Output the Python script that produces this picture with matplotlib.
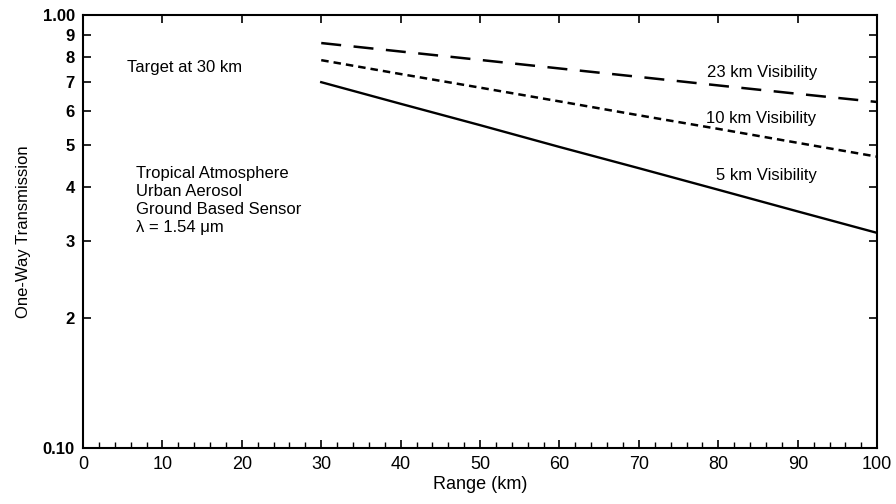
import matplotlib.pyplot as plt
from matplotlib.ticker import FixedLocator, NullLocator, MultipleLocator

plt.rcParams['font.family'] = ['Liberation Sans', 'DejaVu Sans']

range_km = [30, 40, 50, 60, 70, 80, 90, 100]
vis_23km = [0.862, 0.824, 0.788, 0.753, 0.720, 0.688, 0.658, 0.630]
vis_10km = [0.787, 0.731, 0.680, 0.632, 0.587, 0.546, 0.507, 0.471]
vis_5km = [0.700, 0.624, 0.557, 0.496, 0.443, 0.395, 0.352, 0.314]

y_ticks = [0.1, 0.2, 0.3, 0.4, 0.5, 0.6, 0.7, 0.8, 0.9, 1.0]
y_labels = ['0.10', '2', '3', '4', '5', '6', '7', '8', '9', '1.00']

fig = plt.figure(figsize=(8.96, 5.04), dpi=100)
ax = fig.add_axes([0.0926, 0.111, 0.8864, 0.859])

ax.plot(range_km, vis_23km, color='black', lw=1.8, dashes=(8, 5))
ax.plot(range_km, vis_10km, color='black', lw=1.8, dashes=(3, 2))
ax.plot(range_km, vis_5km, color='black', lw=1.7)

ax.set_yscale('log')
ax.set_xlim(0, 100)
ax.set_ylim(0.1, 1.0)
ax.yaxis.set_major_locator(FixedLocator(y_ticks))
ax.yaxis.set_minor_locator(NullLocator())
ax.set_yticklabels(y_labels, fontsize=12, fontweight='bold')
ax.xaxis.set_major_locator(MultipleLocator(10))
ax.xaxis.set_minor_locator(MultipleLocator(2))
for lab in ax.get_xticklabels():
    lab.set_fontsize(13)

ax.tick_params(axis='both', which='major', direction='in', length=6, width=1.2,
               top=True, right=True, pad=6)
ax.tick_params(axis='x', which='minor', direction='in', length=4, width=1.0,
               top=False, bottom=True)
for s in ax.spines.values():
    s.set_linewidth(1.5)

ax.set_xlabel('Range (km)', fontsize=13, labelpad=2)
ax.set_ylabel('One-Way Transmission', fontsize=12, labelpad=8)

ax.text(5.5, 0.758, 'Target at 30 km', fontsize=12, va='center')
ax.text(6.7, 0.448, 'Tropical Atmosphere\nUrban Aerosol\nGround Based Sensor\nλ = 1.54 μm',
        fontsize=12, va='top', linespacing=1.25)
ax.text(85.5, 0.737, '23 km Visibility', fontsize=12, ha='center', va='center')
ax.text(85.4, 0.577, '10 km Visibility', fontsize=12, ha='center', va='center')
ax.text(86, 0.427, '5 km Visibility', fontsize=12, ha='center', va='center')

fig.savefig('out.png', dpi=100)
